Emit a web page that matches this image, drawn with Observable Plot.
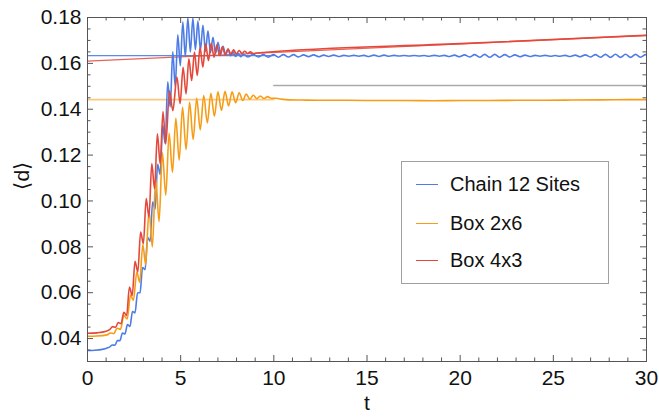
<!DOCTYPE html>
<html>
<head>
<meta charset="utf-8">
<script src="https://cdn.jsdelivr.net/npm/d3@7"></script>
<script src="https://cdn.jsdelivr.net/npm/@observablehq/plot@0.6"></script>
<style>
  body { margin: 0; background: #fff; font-family: "Liberation Sans", Arial, sans-serif; }
  #chart { position: relative; width: 659px; height: 420px; }
  .legend { position: absolute; left: 401px; top: 161px; width: 208px; height: 123px;
            border: 1px solid #a0a0a0; background: #fff; box-sizing: border-box; }
  .legend .row { position: absolute; left: 0; height: 24px; display: flex; align-items: center; }
  .legend .swatch { width: 22px; height: 0; border-top: 1.6px solid; margin-left: 14px; margin-right: 12px; }
  .legend .label { font-size: 20px; color: #111; white-space: nowrap; }
</style>
</head>
<body>
<div id="chart"></div>
<script>
// Mean distance <d> versus time t for three 12-site lattice geometries.
const seriesNames = ["Chain 12 Sites", "Box 2x6", "Box 4x3"];
const seriesColors = ["#4d7ce6", "#f69d17", "#e4483a"];

// [t, <d>] samples, Chain 12 Sites
const chain = [
  [0,0.0348],[0.4,0.0349],[0.8,0.0353],[1.06,0.0359],[1.2,0.0364],
  [1.335,0.0372],[1.47,0.0371],[1.605,0.0391],[1.74,0.0391],[1.875,0.0424],[2.01,0.0420],
  [2.145,0.0461],[2.28,0.0453],[2.415,0.0518],[2.55,0.0512],[2.685,0.0599],[2.82,0.0600],
  [2.955,0.0710],[3.09,0.0700],[3.225,0.0840],[3.36,0.0825],[3.495,0.0995],[3.63,0.0965],
  [3.765,0.1160],[3.9,0.1115],[4.035,0.1330],[4.17,0.1250],[4.305,0.1520],[4.44,0.1410],
  [4.575,0.1650],[4.71,0.1500],[4.845,0.1725],[4.98,0.1590],[5.115,0.1780],[5.25,0.1630],
  [5.385,0.1798],[5.52,0.1650],[5.655,0.1797],[5.79,0.1660],[5.925,0.1784],[6.06,0.1657],
  [6.195,0.1766],[6.33,0.1652],[6.465,0.1742],[6.6,0.1646],[6.735,0.1714],[6.87,0.1643],
  [7.005,0.1692],[7.14,0.1640],[7.275,0.1674],[7.41,0.1637],[7.545,0.1660],[7.68,0.1633],
  [7.815,0.1650],[7.95,0.1630],[8.085,0.1644],[8.22,0.1629],[8.355,0.1640],
  [8.625,0.1628],[8.895,0.1639],[9.165,0.1628],[9.435,0.1638],[9.705,0.1627],[9.975,0.1638],
  [10.245,0.1627],[10.515,0.1638],[10.785,0.1628],[11.055,0.1638],[11.325,0.1628],[11.595,0.1637],
  [11.865,0.1629],[12.135,0.1637],[12.405,0.1629],[12.675,0.1636],[12.945,0.1630],[13.215,0.1636],
  [13.485,0.1630],[13.755,0.1635],[14.025,0.1631],[14.295,0.1635],[14.565,0.1631],[14.835,0.1635],
  [15.105,0.1630],[15.375,0.1636],[15.645,0.1630],[15.915,0.1636],[16.185,0.1631],[16.455,0.1635],
  [16.725,0.1632],[16.995,0.1634],[17.265,0.1632],[17.535,0.1634],[17.805,0.1632],[18.075,0.1634],
  [18.345,0.1631],[18.615,0.1635],[18.885,0.1631],[19.155,0.1635],[19.425,0.1630],[19.695,0.1636],
  [19.965,0.1629],[20.235,0.1637],[20.505,0.1628],[20.775,0.1638],[21.045,0.1627],[21.315,0.1639],
  [21.585,0.1627],[21.855,0.1639],[22.125,0.1627],[22.395,0.1638],[22.665,0.1628],[22.935,0.1637],
  [23.205,0.1629],[23.475,0.1636],[23.745,0.1630],[24.015,0.1635],[24.285,0.1631],[24.555,0.1635],
  [24.825,0.1631],[25.095,0.1634],[25.365,0.1631],[25.635,0.1635],[25.905,0.1630],[26.175,0.1636],
  [26.445,0.1629],[26.715,0.1637],[26.985,0.1628],[27.255,0.1638],[27.525,0.1627],[27.795,0.1639],
  [28.065,0.1626],[28.335,0.1640],[28.605,0.1626],[28.875,0.1640],[29.145,0.1626],[29.415,0.1639],
  [29.685,0.1627],[29.955,0.1638],[30,0.1637]
];

// [t, <d>] samples, Box 2x6
const box26 = [
  [0,0.0410],[0.5,0.0411],[1.05,0.0416],[1.23,0.0424],[1.41,0.0422],[1.59,0.0445],[1.77,0.0440],
  [1.95,0.0500],[2.13,0.0485],[2.31,0.0590],[2.46,0.0566],[2.65,0.0690],[2.80,0.0646],
  [2.97,0.0810],[3.12,0.0722],[3.30,0.0958],[3.48,0.0800],[3.66,0.1100],[3.84,0.0910],
  [4.02,0.1210],[4.20,0.1025],[4.38,0.1295],[4.56,0.1125],[4.74,0.1360],[4.92,0.1178],
  [5.10,0.1408],[5.29,0.1225],[5.48,0.1430],[5.67,0.1268],[5.86,0.1448],[6.05,0.1310],
  [6.24,0.1460],[6.43,0.1340],[6.62,0.1470],[6.81,0.1370],[7.00,0.1476],[7.19,0.1395],
  [7.38,0.1478],[7.57,0.1415],[7.76,0.1476],[7.95,0.1428],[8.14,0.1472],[8.33,0.1438],
  [8.52,0.1466],[8.71,0.1444],[8.90,0.1461],[9.09,0.1446],[9.28,0.1458],[9.47,0.1447],
  [9.66,0.1455],[9.85,0.1448],[10.1,0.1448],[10.4,0.1444],[10.8,0.1441],[11.5,0.1440],
  [12.5,0.1439],[14,0.1439],[15.5,0.1438],[17,0.1438],[18.5,0.1437],[20,0.1438],
  [21.5,0.1438],[23,0.1439],[24.5,0.1439],[26,0.1440],[27.5,0.1441],[29,0.1442],[30,0.1442]
];

// [t, <d>] samples, Box 4x3
const box43 = [
  [0,0.0423],[0.5,0.0425],[1.0,0.0432],[1.2,0.0440],[1.35,0.0452],[1.5,0.0449],[1.65,0.0470],
  [1.8,0.0465],[1.95,0.0515],[2.1,0.0500],[2.25,0.0625],[2.4,0.0588],[2.55,0.0737],
  [2.7,0.0690],[2.85,0.0864],[3.0,0.0814],[3.15,0.1010],[3.3,0.0930],[3.45,0.1163],
  [3.6,0.1053],[3.75,0.1293],[3.9,0.1162],[4.05,0.1390],[4.2,0.1249],[4.4,0.1480],
  [4.58,0.1394],[4.8,0.1540],[4.97,0.1425],[5.13,0.1583],[5.29,0.1467],[5.44,0.1620],
  [5.59,0.1525],[5.74,0.1649],[5.89,0.1547],[6.04,0.1670],[6.19,0.1583],[6.34,0.1685],
  [6.49,0.1612],[6.64,0.1688],[6.79,0.1627],[6.94,0.1680],[7.09,0.1634],[7.24,0.1672],
  [7.39,0.1638],[7.54,0.1664],[7.69,0.1641],[7.84,0.1659],[7.99,0.1642],[8.14,0.1656],
  [8.29,0.1643],[8.44,0.1653],[8.59,0.1643],[8.74,0.1650],[8.89,0.1643],[9.1,0.1645],
  [20,0.1686],[30,0.1722]
];

// Reference levels
const chainLevel = [[0,0.1634],[10,0.1634]];
const box26Level = [[0,0.1442],[10,0.1442]];
const box43Trend = [[0,0.1610],[30,0.1722]];
const grayLevel = [[10,0.1503],[30,0.1503]];

// Frame ticks
const xMajor = [0,5,10,15,20,25,30];
const xMinor = [1,2,3,4,6,7,8,9,11,12,13,14,16,17,18,19,21,22,23,24,26,27,28,29];
const yMajor = [0.04,0.06,0.08,0.10,0.12,0.14,0.16,0.18];
const yMinor = [0.035,0.045,0.05,0.055,0.065,0.07,0.075,0.085,0.09,0.095,0.105,0.11,0.115,
                0.125,0.13,0.135,0.145,0.15,0.155,0.165,0.17,0.175];

const W = 659, H = 420, mT = 17, mB = 59, mL = 87, mR = 13;
const fW = W - mL - mR, fH = H - mT - mB;
const frameInk = "#555", ink = "#111";
const tx = d => d[0], ty = d => d[1];

const curve = (data, color, width, extra = {}) =>
  Plot.line(data, {x: tx, y: ty, stroke: color, strokeWidth: width, curve: "monotone-x", clip: true, ...extra});

const chart = Plot.plot({
  width: W, height: H,
  marginTop: mT, marginBottom: mB, marginLeft: mL, marginRight: mR,
  style: {fontFamily: '"Liberation Sans", Arial, sans-serif', background: "#fff", color: ink},
  x: {domain: [0, 30]},
  y: {domain: [0.03, 0.18]},
  marks: [
    Plot.line(grayLevel, {x: tx, y: ty, stroke: "#aaaaaa", strokeWidth: 1.5}),
    Plot.line(chainLevel, {x: tx, y: ty, stroke: seriesColors[0], strokeWidth: 1.3, strokeOpacity: 0.9}),
    Plot.line(box26Level, {x: tx, y: ty, stroke: seriesColors[1], strokeWidth: 1.6, strokeOpacity: 0.55}),
    Plot.line(box43Trend, {x: tx, y: ty, stroke: seriesColors[2], strokeWidth: 1.3, strokeOpacity: 0.85}),
    curve(chain, seriesColors[0], 1.6),
    curve(box26, seriesColors[1], 1.6),
    curve(box43, seriesColors[2], 1.6),
    Plot.frame({stroke: frameInk}),
    Plot.tickX(xMajor, {x: d => d, insetTop: fH - 6, stroke: frameInk}),
    Plot.tickX(xMajor, {x: d => d, insetBottom: fH - 6, stroke: frameInk}),
    Plot.tickX(xMinor, {x: d => d, insetTop: fH - 3.5, stroke: frameInk}),
    Plot.tickX(xMinor, {x: d => d, insetBottom: fH - 3.5, stroke: frameInk}),
    Plot.tickY(yMajor, {y: d => d, insetRight: fW - 6, stroke: frameInk}),
    Plot.tickY(yMajor, {y: d => d, insetLeft: fW - 6, stroke: frameInk}),
    Plot.tickY(yMinor, {y: d => d, insetRight: fW - 3.5, stroke: frameInk}),
    Plot.tickY(yMinor, {y: d => d, insetLeft: fW - 3.5, stroke: frameInk}),
    Plot.axisX(xMajor, {tickSize: 0, tickPadding: 9, fontSize: 21, label: null, tickFormat: d => String(d)}),
    Plot.axisY(yMajor, {tickSize: 0, tickPadding: 6, fontSize: 21, label: null, tickFormat: d3.format(".2f")}),
    Plot.text(["t"], {frameAnchor: "bottom", dy: 48, fontSize: 21, fill: ink}),
    Plot.text(["\u27e8d\u27e9"], {frameAnchor: "left", dx: -65, rotate: -90, fontSize: 21, fill: ink})
  ]
});

const root = document.getElementById("chart");
root.appendChild(chart);

// Legend box
const legend = document.createElement("div");
legend.className = "legend";
const rowTops = [10, 49, 86];
seriesNames.forEach((name, i) => {
  const row = document.createElement("div");
  row.className = "row";
  row.style.top = rowTops[i] + "px";
  const sw = document.createElement("span");
  sw.className = "swatch";
  sw.style.borderTopColor = seriesColors[i];
  const lab = document.createElement("span");
  lab.className = "label";
  lab.textContent = name;
  row.appendChild(sw);
  row.appendChild(lab);
  legend.appendChild(row);
});
root.appendChild(legend);
</script>
</body>
</html>
